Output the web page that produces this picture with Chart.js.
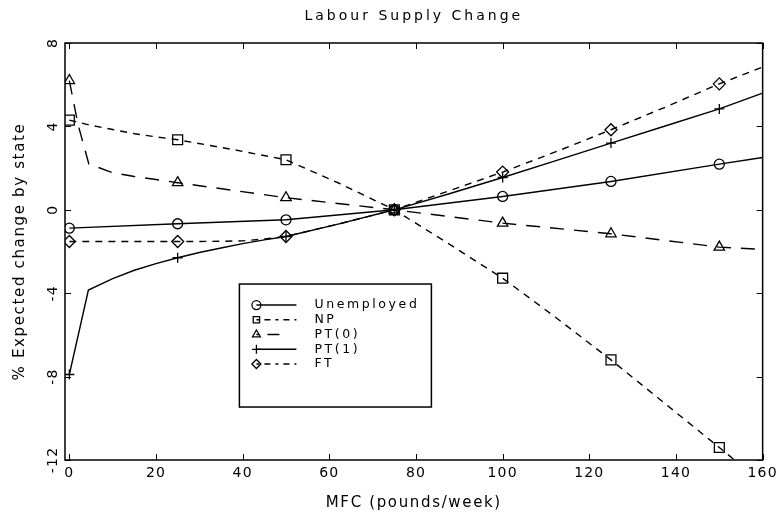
<!DOCTYPE html>
<html><head><meta charset="utf-8">
<script src="https://cdn.jsdelivr.net/npm/chart.js@4.4.0/dist/chart.umd.min.js"></script>
<style>html,body{margin:0;padding:0;background:#fff}</style>
</head><body>
<canvas id="c" width="781" height="518"></canvas>
<script>
const titleText = 'Labour Supply Change';
const xTitle = 'MFC (pounds/week)';
const yTitle = '% Expected change by state';
const seriesNames = ['Unemployed', 'NP', 'PT(0)', 'PT(1)', 'FT'];
const xTicks = [0, 20, 40, 60, 80, 100, 120, 140, 160];
const yTicks = [-12, -8, -4, 0, 4, 8];
const yTickLabels = ['-12', '-8', '-4', '0', '4', '8'];
const markerX = [0, 25, 50, 75, 100, 125, 150];

const unempX = [0, 25, 50, 75, 100, 125, 150, 160];
const unempY = [-0.88, -0.67, -0.48, 0, 0.64, 1.36, 2.19, 2.51];

const npX = [0, 5, 10, 15, 20, 25, 37.5, 50, 62.5, 75, 87.5, 100, 112.5, 125, 137.5, 150, 160];
const npY = [4.3, 4.05, 3.85, 3.65, 3.5, 3.36, 2.9, 2.4, 1.25, 0, -1.62, -3.28, -5.2, -7.2, -9.3, -11.4, -13.1];

const pt0X = [0, 2, 4.5, 10, 15, 20, 25, 50, 75, 100, 125, 150, 160];
const pt0Y = [6.2, 4.1, 2.2, 1.78, 1.6, 1.45, 1.3, 0.58, 0, -0.64, -1.15, -1.79, -1.9];

const pt1X = [0, 4.4, 10, 15, 20, 25, 30, 35, 40, 45, 50, 62.5, 75, 87.5, 100, 112.5, 125, 137.5, 150, 160];
const pt1Y = [-7.9, -3.85, -3.3, -2.9, -2.58, -2.3, -2.05, -1.83, -1.62, -1.44, -1.28, -0.66, 0, 0.76, 1.55, 2.37, 3.2, 4.02, 4.84, 5.6];

const ftX = [0, 25, 30, 35, 40, 45, 50, 62.5, 75, 87.5, 100, 112.5, 125, 137.5, 150, 160];
const ftY = [-1.52, -1.52, -1.52, -1.51, -1.49, -1.4, -1.28, -0.66, 0, 0.9, 1.81, 2.8, 3.84, 4.92, 6.04, 6.85];

const FONT = 'DejaVu Sans';

function makeSet(name, xs, ys, dash, style, r) {
  return {
    label: name,
    data: xs.map((x, i) => ({x: x, y: ys[i]})),
    borderColor: '#000',
    borderWidth: 1.4,
    borderDash: dash,
    pointStyle: style,
    pointRadius: c => (c.raw && markerX.includes(c.raw.x)) ? r : 0,
    pointHoverRadius: 0,
    pointBorderColor: '#000',
    pointBackgroundColor: 'rgba(0,0,0,0)',
    pointBorderWidth: 1.3,
    tension: 0,
    fill: false,
    legendR: r
  };
}

const datasets = [
  makeSet(seriesNames[0], unempX, unempY, [], 'circle', 5),
  makeSet(seriesNames[1], npX, npY, [7, 6], 'rect', 7),
  makeSet(seriesNames[2], pt0X, pt0Y, [14, 10], 'triangle', 6),
  makeSet(seriesNames[3], pt1X, pt1Y, [], 'cross', 5),
  makeSet(seriesNames[4], ftX, ftY, [7, 6], 'rectRot', 6)
];

const spacingPlugin = {
  id: 'spacing',
  beforeDraw(chart) { chart.ctx.letterSpacing = '1.2px'; }
};

const framePlugin = {
  id: 'frame',
  afterDatasetsDraw(chart) {
    const ctx = chart.ctx, a = chart.chartArea;
    const xs = chart.scales.x, ys = chart.scales.y;
    ctx.save();
    ctx.strokeStyle = '#000';
    ctx.lineWidth = 1.5;
    ctx.setLineDash([]);
    ctx.strokeRect(a.left, a.top, a.right - a.left, a.bottom - a.top);
    ctx.lineWidth = 1;
    const tl = 6;
    ctx.beginPath();
    xTicks.forEach(v => {
      const px = Math.round(xs.getPixelForValue(v)) + 0.5;
      ctx.moveTo(px, a.bottom); ctx.lineTo(px, a.bottom - tl);
      ctx.moveTo(px, a.top); ctx.lineTo(px, a.top + tl);
    });
    yTicks.forEach(v => {
      const py = Math.round(ys.getPixelForValue(v)) + 0.5;
      ctx.moveTo(a.left, py); ctx.lineTo(a.left + tl, py);
      ctx.moveTo(a.right, py); ctx.lineTo(a.right - tl, py);
    });
    ctx.stroke();
    ctx.fillStyle = '#000';
    ctx.textAlign = 'center';
    ctx.textBaseline = 'middle';
    // rotated y tick labels
    ctx.font = '14px "' + FONT + '"';
    ctx.letterSpacing = '1.2px';
    yTicks.forEach((v, i) => {
      const py = ys.getPixelForValue(v);
      ctx.save();
      ctx.translate(a.left - 12, py);
      ctx.rotate(-Math.PI / 2);
      ctx.fillText(yTickLabels[i], 0, 0);
      ctx.restore();
    });
    // title
    const cx = (a.left + a.right) / 2, cy = (a.top + a.bottom) / 2;
    ctx.font = '14px "' + FONT + '"';
    ctx.letterSpacing = '3px';
    ctx.fillText(titleText, cx, 16);
    // axis titles
    ctx.font = '15px "' + FONT + '"';
    ctx.letterSpacing = '1.65px';
    ctx.fillText(xTitle, cx, 503);
    ctx.save();
    ctx.translate(20, cy);
    ctx.rotate(-Math.PI / 2);
    ctx.fillText(yTitle, 0, 0);
    ctx.restore();
    ctx.restore();
  }
};

const legendPlugin = {
  id: 'mlegend',
  afterDraw(chart) {
    const ctx = chart.ctx, a = chart.chartArea;
    const w = a.right - a.left, h = a.bottom - a.top;
    const bx = a.left + 0.25 * w, by = a.top + 0.578 * h;
    const bw = 192, bh = 123;
    ctx.save();
    ctx.setLineDash([]);
    ctx.fillStyle = '#fff';
    ctx.fillRect(bx, by, bw, bh);
    ctx.strokeStyle = '#000';
    ctx.lineWidth = 1.5;
    ctx.strokeRect(bx, by, bw, bh);
    ctx.font = '12.5px "' + FONT + '"';
    ctx.letterSpacing = '2.6px';
    ctx.textAlign = 'left';
    ctx.textBaseline = 'middle';
    chart.data.datasets.forEach((ds, i) => {
      const y = by + 21 + i * 14.75;
      const mx = bx + 17;
      ctx.strokeStyle = '#000';
      ctx.lineWidth = 1.4;
      ctx.setLineDash(ds.borderDash.length ? (ds.borderDash[0] > 10 ? [3, 8, 12, 20] : [3, 5, 6, 5]) : []);
      ctx.beginPath();
      ctx.moveTo(mx, y); ctx.lineTo(mx + 40, y);
      ctx.stroke();
      ctx.setLineDash([]);
      ctx.lineWidth = 1.3;
      ctx.fillStyle = 'rgba(0,0,0,0)';
      Chart.helpers.drawPoint(ctx, {pointStyle: ds.pointStyle, radius: Math.min(ds.legendR, 4.5), borderWidth: 1.3}, mx, y);
      ctx.fillStyle = '#000';
      ctx.fillText(ds.label, bx + 75, y);
    });
    ctx.restore();
  }
};

new Chart(document.getElementById('c'), {
  type: 'line',
  data: { datasets: datasets },
  plugins: [spacingPlugin, framePlugin, legendPlugin],
  options: {
    responsive: false,
    animation: false,
    devicePixelRatio: 1,
    layout: { padding: { left: 0, right: 17, top: 43, bottom: 0 } },
    plugins: {
      legend: { display: false },
      tooltip: { enabled: false },
      title: { display: false }
    },
    scales: {
      x: {
        type: 'linear', min: -1, max: 160,
        afterBuildTicks: s => { s.ticks = xTicks.map(v => ({value: v})); },
        afterFit: s => { s.height = 58; },
        grid: { display: false, drawTicks: false },
        border: { display: false },
        ticks: { color: '#000', font: { family: FONT, size: 14 }, padding: 5, autoSkip: false, maxRotation: 0 },
        title: { display: false }
      },
      y: {
        type: 'linear', min: -12, max: 8,
        afterBuildTicks: s => { s.ticks = yTicks.map(v => ({value: v})); },
        afterFit: s => { s.width = 65; },
        grid: { display: false, drawTicks: false },
        border: { display: false },
        ticks: { display: false },
        title: { display: false }
      }
    }
  }
});
</script>
</body></html>
